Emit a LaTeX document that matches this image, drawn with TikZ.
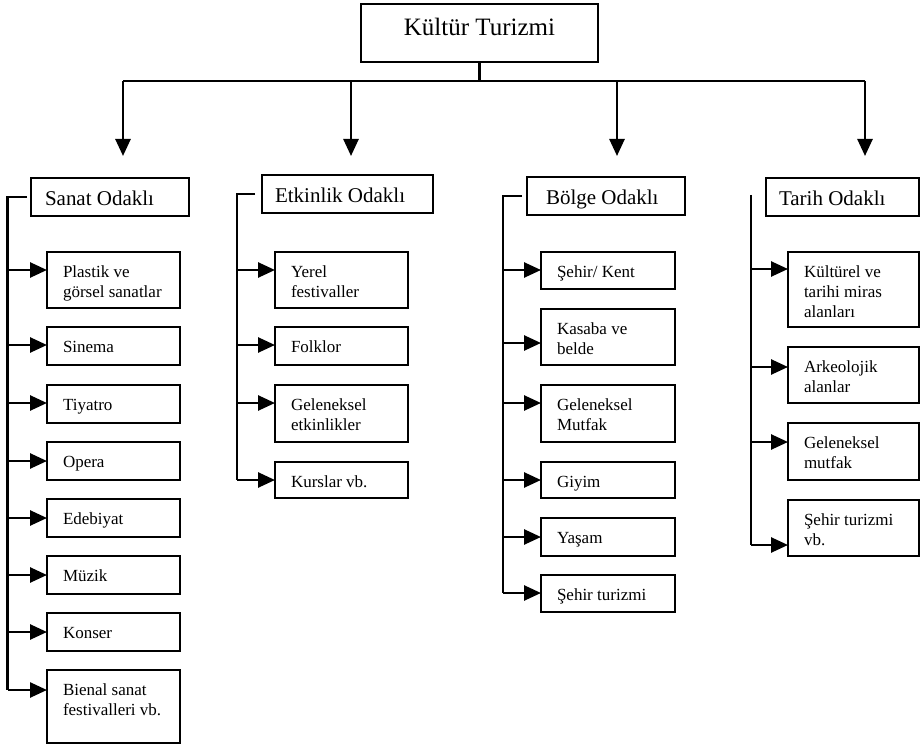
\documentclass[tikz,border=0pt]{standalone}
\usepackage{fontspec}
\setmainfont{Liberation Serif}
\usetikzlibrary{arrows.meta}

\tikzset{
  kutustil/.style={draw, rectangle, line width=1.8pt, inner sep=0pt, outer sep=0pt},
  yazi/.style={inner sep=0pt, outer sep=0pt, font=\fontsize{17}{20}\selectfont},
  baslik/.style={inner sep=0pt, outer sep=0pt, font=\fontsize{21}{24}\selectfont},
  anabaslik/.style={inner sep=0pt, outer sep=0pt, font=\fontsize{25}{28}\selectfont},
  hat/.style={line width=2.6pt},
  oklu/.style={hat, -{Triangle[length=17pt,width=15pt]}},
}

% #1 name, #2 left, #3 top, #4 width, #5 height, #6 arrow offset from top, #7 text
\newcommand{\kutu}[7]{%
  \node[kutustil, minimum width=#4pt, minimum height=#5pt, anchor=north west] (#1) at (#2,#3) {};
  \coordinate (#1-g) at ([yshift=-#6pt]#1.north west);
  \node[yazi, anchor=base west, xshift=16pt, yshift=-25pt] (#1-t) at (#1.north west)
    {\parbox[t]{#4pt}{\raggedright #7}};
}

% #1 name, #2 left, #3 top, #4 width, #5 text indent, #6 text
\newcommand{\grup}[6]{%
  \node[kutustil, minimum width=#4pt, minimum height=38pt, anchor=north west] (#1) at (#2,#3) {};
  \node[baslik, anchor=base west, xshift=#5pt, yshift=-28pt] (#1-t) at (#1.north west) {#6};
}

\begin{document}
\begin{tikzpicture}[x=1pt, y=-1pt]
  \useasboundingbox (0,0) rectangle (921,746);

  % root
  \node[kutustil, minimum width=237pt, minimum height=58pt, anchor=north west] (kt) at (361,4) {};
  \node[anabaslik, anchor=base, yshift=-32pt] (kt-t) at (kt.north) {Kültür Turizmi};

  % distribution bar and its four arrows
  \coordinate (cubuk) at (0,81);
  \coordinate (u1) at (123,156);
  \coordinate (u2) at (351,156);
  \coordinate (u3) at (617,156);
  \coordinate (u4) at (865,156);
  \draw[hat] (kt.south) -- (kt.south |- cubuk);
  \draw[hat] (u1 |- cubuk) -- (u4 |- cubuk);
  \foreach \u in {u1,u2,u3,u4} \draw[oklu] (\u |- cubuk) -- (\u);

  % group headings
  \grup{sanat}{31}{178}{158}{14}{Sanat Odaklı}
  \grup{etkinlik}{262}{175}{171}{13}{Etkinlik Odaklı}
  \grup{bolge}{527}{177}{158}{19}{Bölge Odaklı}
  \grup{tarih}{766}{178}{153}{13}{Tarih Odaklı}

  % Sanat Odaklı
  \kutu{s1}{47}{252}{133}{56}{18}{Plastik ve\\görsel sanatlar}
  \kutu{s2}{47}{327}{133}{38}{18}{Sinema}
  \kutu{s3}{47}{385}{133}{38}{18}{Tiyatro}
  \kutu{s4}{47}{442}{133}{38}{19}{Opera}
  \kutu{s5}{47}{499}{133}{38}{19}{Edebiyat}
  \kutu{s6}{47}{556}{133}{38}{19}{Müzik}
  \kutu{s7}{47}{613}{133}{38}{19}{Konser}
  \kutu{s8}{47}{670}{133}{73}{20}{Bienal sanat\\festivalleri vb.}

  % Etkinlik Odaklı
  \kutu{e1}{275}{252}{133}{56}{18}{Yerel\\festivaller}
  \kutu{e2}{275}{327}{133}{38}{18}{Folklor}
  \kutu{e3}{275}{385}{133}{57}{18}{Geleneksel\\etkinlikler}
  \kutu{e4}{275}{462}{133}{36}{18}{Kurslar vb.}

  % Bölge Odaklı
  \kutu{b1}{541}{252}{134}{37}{18}{Şehir/ Kent}
  \kutu{b2}{541}{309}{134}{56}{34}{Kasaba ve\\belde}
  \kutu{b3}{541}{385}{134}{57}{18}{Geleneksel\\Mutfak}
  \kutu{b4}{541}{462}{134}{36}{18}{Giyim}
  \kutu{b5}{541}{518}{134}{38}{19}{Yaşam}
  \kutu{b6}{541}{575}{134}{37}{18}{Şehir turizmi}

  % Tarih Odaklı
  \kutu{t1}{788}{252}{131}{75}{17}{Kültürel ve\\tarihi miras\\alanları}
  \kutu{t2}{788}{347}{131}{56}{20}{Arkeolojik\\alanlar}
  \kutu{t3}{788}{423}{131}{57}{19}{Geleneksel\\mutfak}
  \kutu{t4}{788}{500}{131}{56}{45}{Şehir turizmi\\vb.}

  % brackets
  \coordinate (sx) at (7.5,0);
  \coordinate (ex) at (237,0);
  \coordinate (bx) at (503,0);
  \coordinate (tx) at (751,195);

  \draw[hat] ([xshift=-4pt]sanat.west) -- (sanat.west -| sx) -- (s8-g -| sx);
  \foreach \k in {s1,s2,s3,s4,s5,s6,s7,s8} \draw[oklu] (\k-g -| sx) -- (\k-g);

  \draw[hat] ([xshift=-7pt]etkinlik.west) -- (etkinlik.west -| ex) -- (e4-g -| ex);
  \foreach \k in {e1,e2,e3,e4} \draw[oklu] (\k-g -| ex) -- (\k-g);

  \draw[hat] ([xshift=-5pt]bolge.west) -- (bolge.west -| bx) -- (b6-g -| bx);
  \foreach \k in {b1,b2,b3,b4,b5,b6} \draw[oklu] (\k-g -| bx) -- (\k-g);

  \draw[hat] (tx) -- (t4-g -| tx);
  \foreach \k in {t1,t2,t3,t4} \draw[oklu] (\k-g -| tx) -- (\k-g);
\end{tikzpicture}
\end{document}
